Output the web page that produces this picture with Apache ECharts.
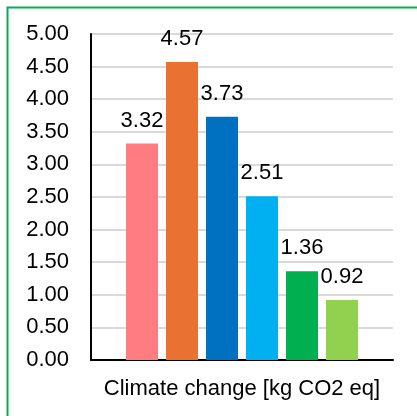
<!DOCTYPE html>
<html><head><meta charset="utf-8">
<script src="https://cdn.jsdelivr.net/npm/echarts@6/dist/echarts.min.js"></script>
<style>html,body{margin:0;padding:0;background:#fff}#c{width:417px;height:416px}</style>
</head><body><div id="c"></div>
<script>
const categories = ['Climate change [kg CO2 eq]'];
const seriesNames = ['A', 'B', 'C', 'D', 'E', 'F'];
const seriesValues = [3.32, 4.57, 3.73, 2.51, 1.36, 0.92];
const seriesColors = ['#FF7C80', '#E97132', '#0070C0', '#00B0F0', '#00B050', '#92D050'];
const yTicks = { min: 0, max: 5, interval: 0.5 };

const FONT = 'Liberation Sans';
const chart = echarts.init(document.getElementById('c'), null, { renderer: 'canvas' });
chart.setOption({
  animation: false,
  backgroundColor: '#ffffff',
  textStyle: { fontFamily: FONT },
  graphic: [{
    type: 'rect', left: 5, top: 5, shape: { x: 0, y: 0, width: 440, height: 440 },
    style: { fill: 'none', stroke: '#00B050', lineWidth: 2 }, silent: true, z: 100
  }],
  grid: { left: 91, right: 24, top: 34, bottom: 56, containLabel: false },
  xAxis: {
    type: 'category', data: categories,
    axisLine: { show: true, lineStyle: { color: '#000', width: 2 } },
    axisTick: { show: false }, axisLabel: { show: false },
    name: categories[0], nameLocation: 'middle', nameGap: 18,
    nameTextStyle: { fontSize: 22, color: '#000', fontFamily: FONT }
  },
  yAxis: {
    type: 'value', min: yTicks.min, max: yTicks.max, interval: yTicks.interval,
    axisLine: { show: true, lineStyle: { color: '#000', width: 2 } },
    axisTick: { show: false },
    axisLabel: { fontSize: 22, color: '#000', margin: 22, fontFamily: FONT,
      formatter: v => v.toFixed(2) },
    splitLine: { show: true, lineStyle: { color: '#d9d9d9', width: 2 } }
  },
  series: seriesValues.map((v, i) => ({
    type: 'bar', name: seriesNames[i], data: [v],
    barWidth: 32, barGap: '25%',
    itemStyle: { color: seriesColors[i] },
    label: { show: true, position: 'top', distance: 12, fontSize: 22, color: '#000',
      fontFamily: FONT, formatter: p => p.value.toFixed(2) }
  }))
});
</script></body></html>
